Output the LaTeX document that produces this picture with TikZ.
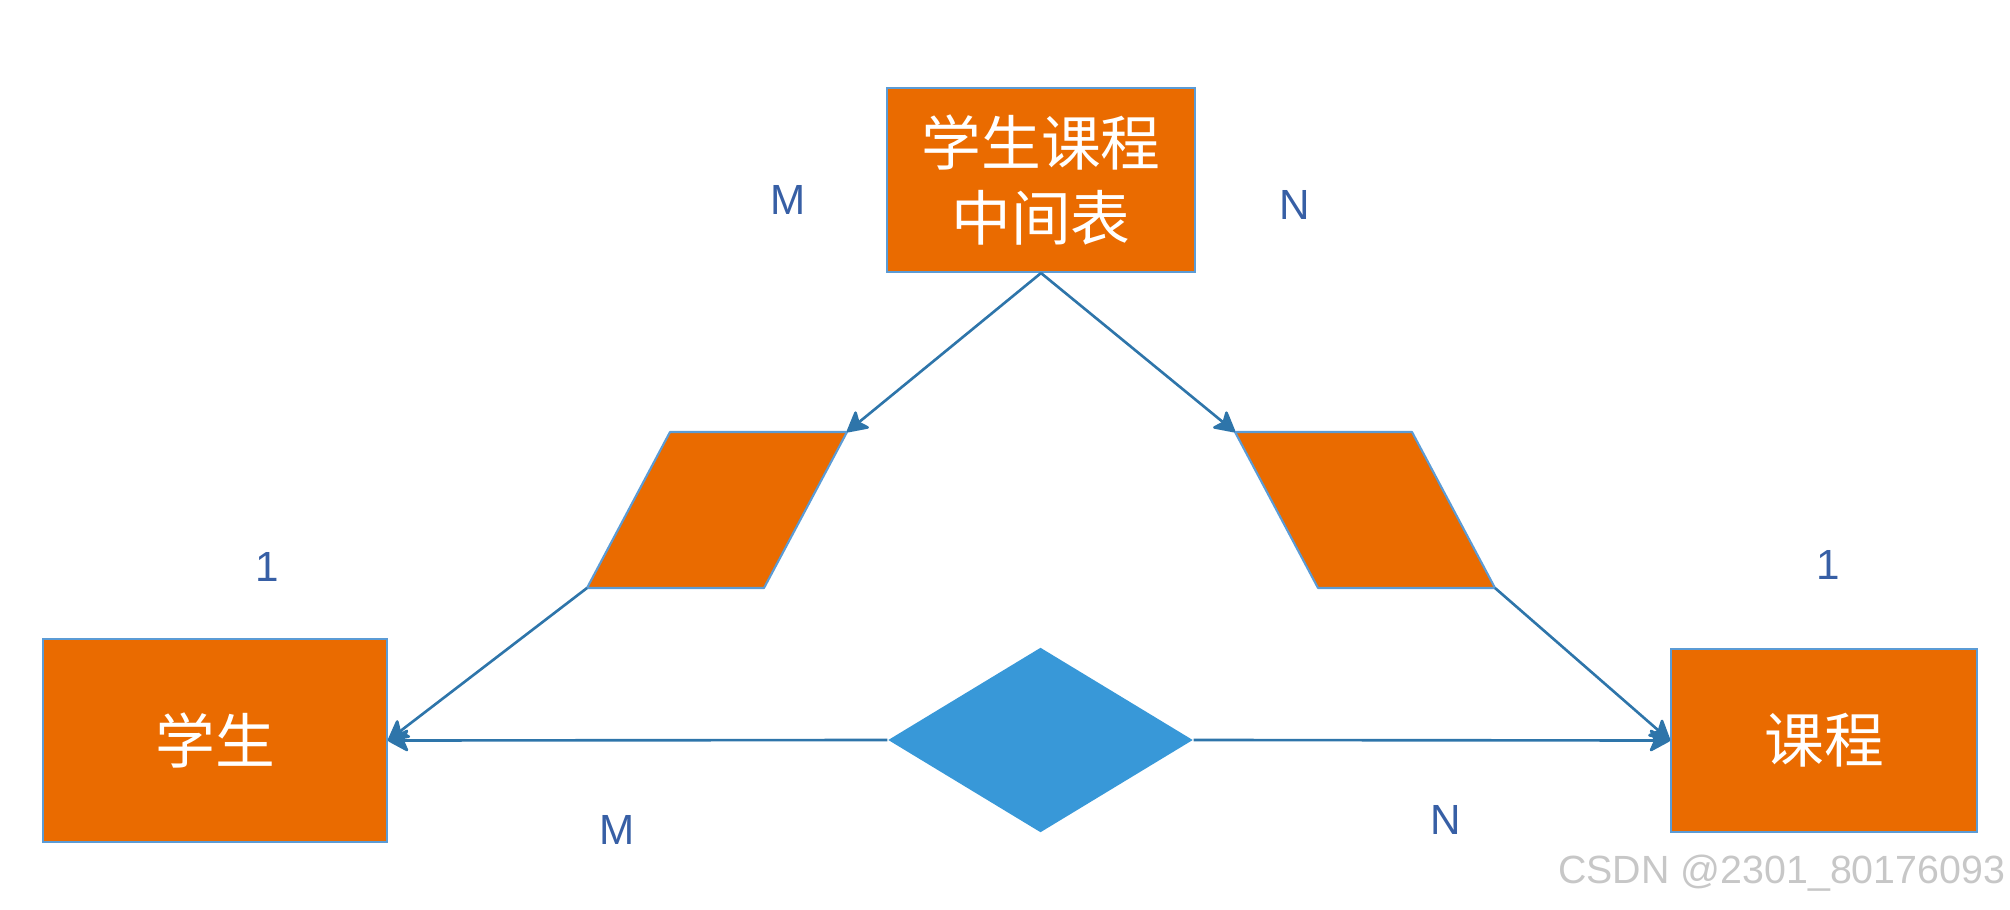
\documentclass[tikz,border=0pt]{standalone}
\usepackage{fontspec}
\setmainfont{Liberation Sans}
\newfontfamily\cjk{Noto Sans CJK SC}
\usetikzlibrary{arrows.meta,positioning,shapes.geometric}
\definecolor{erorange}{RGB}{234,107,0}
\definecolor{erframe}{RGB}{91,155,213}
\definecolor{erblue}{RGB}{56,152,216}
\definecolor{erline}{RGB}{46,117,170}
\definecolor{ertext}{RGB}{55,95,165}
\tikzset{
  entbox/.style={rectangle, draw=erframe, fill=erorange, line width=0.6pt,
                 inner sep=0pt, text=white, font=\cjk\fontsize{17}{21.3}\selectfont,
                 align=center},
  linkshape/.style={draw=erframe, fill=erorange, line width=0.6pt, line join=round},
  relbox/.style={diamond, fill=erblue, inner sep=0pt,
                 minimum width=3.05cm, minimum height=1.85cm},
  erlink/.style={-{Stealth[length=6.5pt, width=7pt, inset=1.5pt, round]}, line width=0.75pt, erline},
  card/.style={text=ertext, font=\fontsize{12}{14}\selectfont},
}
\begin{document}
\begin{tikzpicture}
  \useasboundingbox (0,0) rectangle (20.10,9.09);
  % entities
  \node[entbox, minimum width=3.08cm, minimum height=1.84cm] (mid) at (10.41,7.29)
    {学生课程\\中间表};
  \node[entbox, minimum width=3.44cm, minimum height=2.03cm] (stu) at (2.15,1.685) {学生};
  \node[entbox, minimum width=3.06cm, minimum height=1.83cm] (crs) at (18.24,1.685) {课程};
  % link tables (corners)
  \coordinate (pltl) at (6.70,4.77); \coordinate (pltr) at (8.47,4.77);
  \coordinate (plbr) at (7.64,3.21); \coordinate (plbl) at (5.87,3.21);
  \coordinate (prtl) at (12.35,4.77); \coordinate (prtr) at (14.12,4.77);
  \coordinate (prbr) at (14.95,3.21); \coordinate (prbl) at (13.18,3.21);
  \draw[linkshape] (pltl) -- (pltr) -- (plbr) -- (plbl) -- cycle;
  \draw[linkshape] (prtl) -- (prtr) -- (prbr) -- (prbl) -- cycle;
  % relation
  \node[relbox] (rel) at (10.405,1.69) {};
  % connectors
  \draw[erlink] (mid.south) -- (pltr);
  \draw[erlink] (mid.south) -- (prtl);
  \draw[erlink] (plbl) -- (stu.east);
  \draw[erlink] (prbr) -- (crs.west);
  \draw[erlink] (rel.west) -- (stu.east);
  \draw[erlink] (rel.east) -- (crs.west);
  % cardinalities
  \node[card] (cm1) at (7.88,7.09) {M};
  \node[card] (cn1) at (12.95,7.04) {N};
  \node[card] (c1l) at (2.67,3.42) {1};
  \node[card] (c1r) at (18.28,3.44) {1};
  \node[card] (cm2) at (6.17,0.79) {M};
  \node[card] (cn2) at (14.46,0.89) {N};
  \node[text=black!22, font=\fontsize{11.2}{12}\selectfont, anchor=east, inner sep=0pt]
    (mark) at (20.06,0.355) {CSDN @2301\_80176093};
\end{tikzpicture}
\end{document}
